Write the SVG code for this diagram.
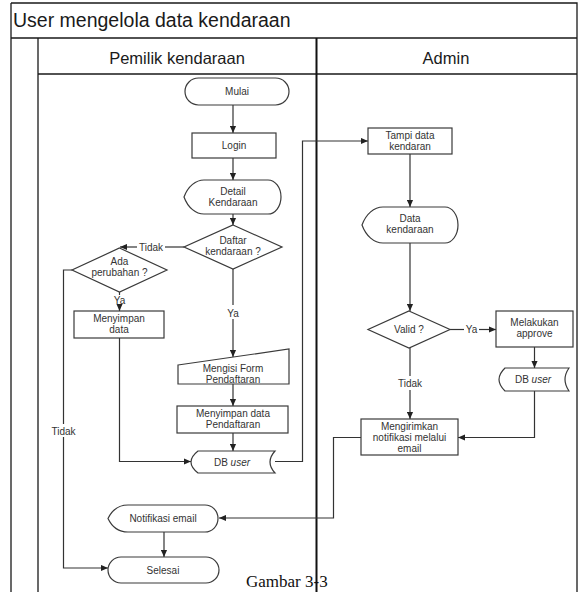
<svg xmlns="http://www.w3.org/2000/svg" width="578" height="592" viewBox="0 0 578 592">
<style>
.frame{fill:none;stroke:#1a1a1a;stroke-width:1.3}
.div{fill:none;stroke:#111;stroke-width:2}
.shape{fill:#fff;stroke:#3a3a3a;stroke-width:1.2}
.t{font-family:"Liberation Sans",Arial,sans-serif;font-size:10px;fill:#333;text-anchor:middle}
.lbl{font-family:"Liberation Sans",Arial,sans-serif;font-size:10px;fill:#333;text-anchor:middle}
.title{font-family:"Liberation Sans",Arial,sans-serif;font-size:19.5px;fill:#1a1a1a}
.lane{font-family:"Liberation Sans",Arial,sans-serif;font-size:16.5px;fill:#1a1a1a;text-anchor:middle}
.cap{font-family:"Liberation Serif","Times New Roman",serif;font-size:17px;fill:#111}
.c{fill:none;stroke:#333;stroke-width:1.2}
.ca{fill:none;stroke:#333;stroke-width:1.2;marker-end:url(#ah)}
</style>
<defs>
<marker id="ah" viewBox="0 0 8 8" refX="8" refY="4" markerWidth="7" markerHeight="7" orient="auto" markerUnits="userSpaceOnUse">
<path d="M0,0.5 L8,4 L0,7.5 Z" fill="#222"/>
</marker>
</defs>
<rect width="578" height="592" fill="#fff"/>

<g id="frame">
<path class="frame" d="M11,3 H577 V592 M11,3 V592 M11,38 H577 M38,38 V592 M38,74 H577"/>
<path class="div" d="M316.5,38 V592"/>
<text class="title" x="13" y="27">User mengelola data kendaraan</text>
<text class="lane" x="177" y="64">Pemilik kendaraan</text>
<text class="lane" x="446" y="64">Admin</text>
</g>

<g id="connectors">
<path class="ca" d="M233,105 V133"/>
<path class="ca" d="M233,158 V180"/>
<path class="ca" d="M233,214 V225"/>
<path class="c" d="M184,247 H165"/>
<path class="ca" d="M137,247 H120"/>
<text class="lbl" x="151" y="250.5">Tidak</text>
<path class="c" d="M119.5,292 V295"/>
<path class="ca" d="M119.5,305 V311"/>
<text class="lbl" x="119.5" y="304">Ya</text>
<path class="ca" d="M119.5,338 V461.5 H191"/>
<path class="c" d="M72,270 H63.5 V424"/>
<path class="ca" d="M63.5,437 V568 H108"/>
<text class="lbl" x="63.5" y="435">Tidak</text>
<path class="c" d="M233,269 V305"/>
<path class="ca" d="M233,319 V357"/>
<text class="lbl" x="233" y="316.5">Ya</text>
<path class="ca" d="M233,384 V406"/>
<path class="ca" d="M233,433 V451"/>
<path class="ca" d="M275,461.5 H302.5 V141 H368"/>
<path class="ca" d="M410,154 V207"/>
<path class="ca" d="M410,243 V311"/>
<path class="c" d="M450,329.5 H464"/>
<path class="ca" d="M479,329.5 H496"/>
<text class="lbl" x="471.5" y="333">Ya</text>
<path class="ca" d="M534.5,347 V368"/>
<path class="ca" d="M534.5,391 V437.5 H458"/>
<path class="c" d="M410,348 V376"/>
<path class="ca" d="M410,390 V419"/>
<text class="lbl" x="410" y="386.5">Tidak</text>
<path class="ca" d="M361,437.5 H333.5 V518 H219"/>
<path class="ca" d="M164,532 V557"/>
</g>

<g id="mulai">
<rect class="shape" x="185" y="78" width="104" height="27" rx="13.5"/>
<text class="t" x="237" y="95">Mulai</text>
</g>
<g id="login">
<rect class="shape" x="192" y="133" width="84" height="25"/>
<text class="t" x="234" y="149">Login</text>
</g>
<g id="detail-kendaraan">
<path class="shape" d="M184,197 C188,186 196,180 204,180 L268,180 A13,17 0 0 1 268,214 L204,214 C196,214 188,208 184,197 Z"/>
<text class="t" x="233" y="195">Detail</text>
<text class="t" x="233" y="206">Kendaraan</text>
</g>
<g id="daftar-kendaraan">
<path class="shape" d="M233,225 L282,247 L233,269 L184,247 Z"/>
<text class="t" x="233" y="244">Daftar</text>
<text class="t" x="233" y="255">kendaraan ?</text>
</g>
<g id="ada-perubahan">
<path class="shape" d="M119.5,248 L167,270 L119.5,292 L72,270 Z"/>
<text class="t" x="119.5" y="265">Ada</text>
<text class="t" x="119.5" y="276">perubahan ?</text>
</g>
<g id="menyimpan-data">
<rect class="shape" x="74" y="311" width="90" height="27"/>
<text class="t" x="119" y="322">Menyimpan</text>
<text class="t" x="119" y="333">data</text>
</g>
<g id="mengisi-form">
<path class="shape" d="M178,365 L289,349 L289,384 L178,384 Z"/>
<text class="t" x="233" y="371.5">Mengisi Form</text>
<text class="t" x="233" y="382.5">Pendaftaran</text>
</g>
<g id="menyimpan-pendaftaran">
<rect class="shape" x="177" y="406" width="111" height="27"/>
<text class="t" x="233" y="417">Menyimpan data</text>
<text class="t" x="233" y="428">Pendaftaran</text>
</g>
<g id="db-user-1">
<path class="shape" d="M198,451 L275,451 Q265,462 275,473 L198,473 Q184,462 198,451 Z"/>
<text class="t" x="232" y="465.5">DB <tspan font-style="italic">user</tspan></text>
</g>
<g id="notifikasi-email">
<path class="shape" d="M108,518.5 C112,510 119,505 128,505 L205,505 A13,13.5 0 0 1 205,532 L128,532 C119,532 112,527 108,518.5 Z"/>
<text class="t" x="163" y="522">Notifikasi email</text>
</g>
<g id="selesai">
<rect class="shape" x="108" y="557" width="111" height="26" rx="13"/>
<text class="t" x="163" y="573.5">Selesai</text>
</g>

<g id="tampi-data">
<rect class="shape" x="368" y="128" width="84" height="26"/>
<text class="t" x="410" y="138.5">Tampi data</text>
<text class="t" x="410" y="149.5">kendaran</text>
</g>
<g id="data-kendaraan">
<path class="shape" d="M362,225 C366,214 374,207 383,207 L445,207 A13,18 0 0 1 445,243 L383,243 C374,243 366,236 362,225 Z"/>
<text class="t" x="410" y="222">Data</text>
<text class="t" x="410" y="233">kendaraan</text>
</g>
<g id="valid">
<path class="shape" d="M409,311 L450,329.5 L409,348 L368,329.5 Z"/>
<text class="t" x="409" y="333">Valid ?</text>
</g>
<g id="melakukan-approve">
<rect class="shape" x="496" y="311" width="77" height="36"/>
<text class="t" x="534.5" y="326">Melakukan</text>
<text class="t" x="534.5" y="337">approve</text>
</g>
<g id="db-user-2">
<path class="shape" d="M505,368 L569,368 Q561,379.5 569,391 L505,391 Q493,379.5 505,368 Z"/>
<text class="t" x="533" y="383">DB <tspan font-style="italic">user</tspan></text>
</g>
<g id="mengirimkan">
<rect class="shape" x="361" y="419" width="97" height="36"/>
<text class="t" x="409.5" y="430">Mengirimkan</text>
<text class="t" x="409.5" y="441">notifikasi melalui</text>
<text class="t" x="409.5" y="452">email</text>
</g>

<text class="cap" x="246" y="587">Gambar  3-3</text>
</svg>
